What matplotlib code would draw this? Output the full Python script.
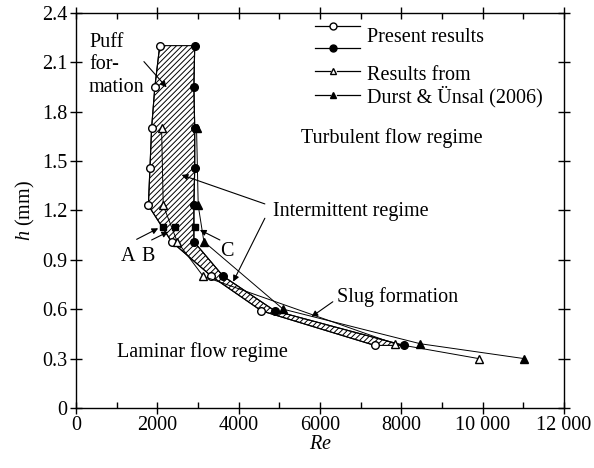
import matplotlib
matplotlib.use('Agg')
import matplotlib.pyplot as plt
from matplotlib.ticker import MultipleLocator, FuncFormatter

plt.rcParams['font.family'] = ['Liberation Serif', 'DejaVu Serif']
plt.rcParams['mathtext.fontset'] = 'custom'
plt.rcParams['mathtext.rm'] = 'Liberation Serif'
plt.rcParams['mathtext.it'] = 'Liberation Serif:italic'
plt.rcParams['hatch.linewidth'] = 0.7
FS = 14.5

# present results: onset (open) and end (filled) of transition
re_open = [2060, 1940, 1860, 1820, 1780, 2350, 3330, 4560, 7350]
h_open = [2.2, 1.95, 1.7, 1.46, 1.23, 1.01, 0.8, 0.59, 0.38]
re_fill = [2920, 2900, 2920, 2920, 2900, 2900, 3620, 4890, 8060]
h_fill = [2.2, 1.95, 1.7, 1.46, 1.23, 1.01, 0.8, 0.59, 0.38]

# Durst & Unsal (2006)
re_du_open = [2105, 2146, 2490, 3128, 7840, 9904]
h_du_open = [1.7, 1.23, 1.01, 0.8, 0.39, 0.3]
re_du_fill = [2965, 3006, 3146, 5095, 8470, 11017]
h_du_fill = [1.7, 1.23, 1.01, 0.6, 0.39, 0.3]

# points A, B, C at h = 1.1 mm
re_abc = [2146, 2433, 2924]
h_abc = [1.1, 1.1, 1.1]

fig = plt.figure(figsize=(5.94, 4.68), dpi=100)
ax = fig.add_axes([0.1279, 0.1282, 0.8215, 0.8447])

# hatched transition band
ax.fill(re_open + re_fill[::-1], h_open + h_fill[::-1], facecolor='white',
        edgecolor='k', hatch='//////', lw=0.8, zorder=1)

ms = 5.5
ax.plot(re_open, h_open, '-o', color='k', mfc='white', ms=ms, lw=0.8, zorder=3)
ax.plot(re_fill, h_fill, '-o', color='k', mfc='k', ms=ms, lw=0.8, zorder=3)
ax.plot(re_du_open, h_du_open, '-^', color='k', mfc='white', ms=ms, lw=0.7, zorder=3)
ax.plot(re_du_fill, h_du_fill, '-^', color='k', mfc='k', ms=ms, lw=0.7, zorder=3)
ax.plot(re_abc, h_abc, 's', color='k', ms=4, zorder=4)

ax.set_xlim(0, 12000)
ax.set_ylim(0, 2.4)
ax.xaxis.set_major_locator(MultipleLocator(2000))
ax.xaxis.set_minor_locator(MultipleLocator(1000))
ax.yaxis.set_major_locator(MultipleLocator(0.3))


def fmt_x(v, pos):
    v = int(round(v))
    if v >= 10000:
        return '%d %03d' % (v // 1000, v % 1000)
    return str(v)


def fmt_y(v, pos):
    return '0' if abs(v) < 1e-9 else '%.1f' % v


ax.xaxis.set_major_formatter(FuncFormatter(fmt_x))
ax.yaxis.set_major_formatter(FuncFormatter(fmt_y))
ax.tick_params(axis='both', which='major', labelsize=FS, direction='inout',
               length=8, width=1.0, top=True, right=True)
ax.tick_params(axis='both', which='minor', direction='in', length=4,
               width=1.0, top=True, right=True)
ax.tick_params(axis='x', which='major', pad=2)
ax.tick_params(axis='y', which='major', pad=2)
for s in ax.spines.values():
    s.set_linewidth(1.0)

ax.set_xlabel('$Re$', fontsize=FS, labelpad=0)
ax.set_ylabel('$h$ (mm)', fontsize=FS, labelpad=4)

# legend drawn by hand
rows = [(0.966, 'white', 'o'), (0.910, 'k', 'o'), (0.853, 'white', '^'), (0.793, 'k', '^')]
for y, fc, m in rows:
    ax.plot([0.4898, 0.5205], [y, y], '-', color='k', lw=0.9, transform=ax.transAxes)
    ax.plot([0.5348, 0.582], [y, y], '-', color='k', lw=0.9, transform=ax.transAxes)
    ax.plot([0.5275], [y], m, color='k', mfc=fc, ms=5 if m == 'o' else 4.5,
            transform=ax.transAxes)
ax.text(0.5957, 0.936, 'Present results', fontsize=FS, va='center', transform=ax.transAxes)
ax.text(0.5957, 0.842, 'Results from', fontsize=FS, va='center', transform=ax.transAxes)
ax.text(0.5957, 0.7875, 'Durst & Ünsal (2006)', fontsize=FS, va='center', transform=ax.transAxes)

arr = dict(arrowstyle='-|>', lw=0.8, color='k', mutation_scale=9, shrinkA=0, shrinkB=0)

ax.text(320, 2.277, 'Puff\nfor-\nmation', fontsize=FS, va='top', linespacing=1.25)
ax.annotate('', xy=(2228, 1.947), xytext=(1671, 2.103), arrowprops=arr)

ax.text(5546, 1.64, 'Turbulent flow regime', fontsize=FS, va='center')

ax.text(4849, 1.196, 'Intermittent regime', fontsize=FS, va='center')
ax.annotate('', xy=(2597, 1.415), xytext=(4645, 1.239), arrowprops=arr)
ax.annotate('', xy=(3866, 0.767), xytext=(4645, 1.152), arrowprops=arr)

ax.text(3703, 0.949, 'C', fontsize=FS, ha='center', va='center')
ax.annotate('', xy=(3047, 1.081), xytext=(3539, 1.02), arrowprops=arr)

ax.text(1278, 0.919, 'A', fontsize=FS, ha='center', va='center')
ax.text(1769, 0.919, 'B', fontsize=FS, ha='center', va='center')
ax.annotate('', xy=(2022, 1.091), xytext=(1492, 1.024), arrowprops=arr)
ax.annotate('', xy=(2268, 1.07), xytext=(1860, 1.02), arrowprops=arr)

ax.text(6414, 0.674, 'Slug formation', fontsize=FS, va='center')
ax.annotate('', xy=(5792, 0.554), xytext=(6316, 0.645), arrowprops=arr)

ax.text(1000, 0.342, 'Laminar flow regime', fontsize=FS, va='center')

fig.savefig('out.png', dpi=100)
